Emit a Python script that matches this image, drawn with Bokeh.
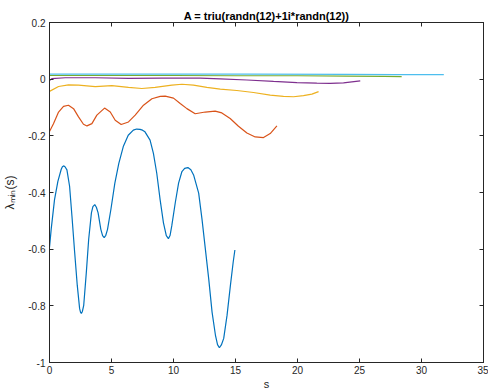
import math
from bokeh.plotting import figure
from bokeh.models import LinearAxis, FixedTicker, CustomJSTickFormatter, Range1d
from bokeh.embed import file_html
from bokeh.resources import INLINE

# ---- data ----
title_text = "A = triu(randn(12)+1i*randn(12))"
x_label = "s"
y_label = "λₘᵢₙ(s)"
x_ticks = [0, 5, 10, 15, 20, 25, 30, 35]
y_ticks = [-1.0, -0.8, -0.6, -0.4, -0.2, 0.0, 0.2]

s1 = [0.0, 0.135, 0.405, 0.676, 0.946, 1.04, 1.135, 1.25, 1.405, 1.62, 1.81, 2.03, 2.24,
      2.43, 2.50, 2.57, 2.65, 2.76, 2.97, 3.16, 3.38, 3.50, 3.65, 3.78, 3.92, 4.14, 4.28,
      4.41, 4.54, 4.68, 4.95, 5.27, 5.59, 5.95, 6.35, 6.76, 7.03, 7.30, 7.50, 7.70, 8.11,
      8.38, 8.65, 8.92, 9.19, 9.42, 9.59, 9.72, 9.86, 10.14, 10.41, 10.68, 10.90, 11.16,
      11.40, 11.62, 12.03, 12.30, 12.57, 12.84, 13.11, 13.38, 13.55, 13.70, 13.86, 14.05,
      14.32, 14.59, 14.81, 14.95]
lam1 = [-0.594, -0.530, -0.425, -0.361, -0.318, -0.309, -0.306, -0.309, -0.320, -0.378,
        -0.483, -0.612, -0.728, -0.810, -0.822, -0.827, -0.820, -0.798, -0.682, -0.565,
        -0.472, -0.450, -0.443, -0.452, -0.472, -0.530, -0.552, -0.559, -0.551, -0.530,
        -0.460, -0.367, -0.297, -0.238, -0.198, -0.180, -0.176, -0.177, -0.180, -0.186,
        -0.215, -0.262, -0.332, -0.425, -0.507, -0.552, -0.563, -0.552, -0.518, -0.437,
        -0.367, -0.326, -0.315, -0.312, -0.320, -0.338, -0.402, -0.495, -0.600, -0.705,
        -0.822, -0.903, -0.937, -0.948, -0.938, -0.915, -0.833, -0.728, -0.647, -0.603]

s2 = [0.0, 0.32, 0.73, 1.13, 1.53, 1.94, 2.34, 2.74, 3.02, 3.42, 3.82, 4.44, 4.90, 5.30,
      5.78, 6.37, 6.91, 7.58, 8.26, 8.93, 9.33, 10.0, 10.54, 11.08, 11.75, 12.56, 13.36,
      13.90, 14.57, 15.24, 15.92, 16.59, 17.26, 17.80, 18.34]
lam2 = [-0.185, -0.157, -0.116, -0.096, -0.092, -0.104, -0.133, -0.159, -0.165, -0.157,
        -0.127, -0.102, -0.116, -0.145, -0.160, -0.151, -0.127, -0.092, -0.069, -0.061,
        -0.060, -0.067, -0.086, -0.104, -0.122, -0.116, -0.113, -0.119, -0.139, -0.166,
        -0.190, -0.204, -0.206, -0.192, -0.165]

s3 = [0.0, 0.73, 1.53, 2.34, 3.69, 5.03, 6.37, 7.45, 8.52, 9.87, 10.68, 11.61, 12.69,
      13.77, 15.11, 16.45, 17.80, 18.87, 19.68, 20.48, 21.16, 21.70]
lam3 = [-0.043, -0.026, -0.020, -0.021, -0.026, -0.023, -0.029, -0.033, -0.029, -0.021,
        -0.018, -0.021, -0.029, -0.035, -0.040, -0.047, -0.056, -0.061, -0.062, -0.058,
        -0.053, -0.044]

s4 = [0.0, 0.19, 1.27, 3.69, 6.37, 9.06, 12.15, 13.77, 15.92, 18.07, 19.95, 21.56, 22.64,
      23.71, 25.06]
lam4 = [-0.005, 0.002, 0.005, 0.005, 0.003, 0.004, 0.004, 0.001, -0.003, -0.008, -0.012,
        -0.014, -0.015, -0.013, -0.006]

s5 = [0.0, 5.0, 10.0, 15.0, 20.0, 24.0, 27.0, 28.4]
lam5 = [0.013, 0.013, 0.013, 0.012, 0.012, 0.011, 0.010, 0.009]

s6 = [0.0, 8.0, 16.0, 24.0, 28.0, 31.8]
lam6 = [0.018, 0.018, 0.018, 0.017, 0.016, 0.016]

series = [(s1, lam1, "#0072BD"), (s2, lam2, "#D95319"), (s3, lam3, "#EDB120"),
          (s4, lam4, "#7E2F8E"), (s5, lam5, "#77AC30"), (s6, lam6, "#4DBEEE")]

FONT = "Liberation Sans"
AX = "#262626"

p = figure(width=488, height=392, x_range=Range1d(0, 35), y_range=Range1d(-1, 0.2),
           output_backend="svg", toolbar_location=None,
           min_border_left=49, min_border_right=5, min_border_top=22, min_border_bottom=28)
p.background_fill_color = "white"
p.border_fill_color = "white"
p.outline_line_color = AX
p.grid.visible = False

p.title.text = title_text
p.title.align = "center"
p.title.text_font = FONT
p.title.text_font_size = "11px"
p.title.text_font_style = "bold"
p.title.text_color = "black"
p.title.standoff = 2
p.title.offset = 0

xt = FixedTicker(ticks=x_ticks)
yt = FixedTicker(ticks=y_ticks)
fmt = CustomJSTickFormatter(code="return String(Math.round(tick*10)/10);")

for ax in (p.xaxis[0], p.yaxis[0]):
    ax.major_tick_in = 4
    ax.major_tick_out = 0
    ax.minor_tick_line_color = None
    ax.axis_line_color = AX
    ax.major_tick_line_color = AX
    ax.major_label_text_font = FONT
    ax.major_label_text_font_size = "10px"
    ax.major_label_text_color = AX
    ax.axis_label_text_font = FONT
    ax.axis_label_text_font_style = "normal"
    ax.axis_label_text_color = AX
p.xaxis[0].ticker = xt
p.xaxis[0].major_label_standoff = 3
p.xaxis[0].axis_label = x_label
p.xaxis[0].axis_label_text_font_size = "11px"
p.xaxis[0].axis_label_standoff = 1
p.yaxis[0].ticker = yt
p.yaxis[0].formatter = fmt
p.yaxis[0].major_label_standoff = 4
p.yaxis[0].axis_label = y_label
p.yaxis[0].axis_label_text_font_size = "12px"
p.yaxis[0].axis_label_standoff = 8

# mirrored inward ticks on the top and right frame edges (labels not drawn)
for side, tk in (("above", xt), ("right", yt)):
    a = LinearAxis(ticker=tk, major_tick_in=4, major_tick_out=0, minor_tick_line_color=None,
                   axis_line_color=AX, major_tick_line_color=AX,
                   major_label_text_font_size="1px", major_label_text_color=None,
                   major_label_standoff=0)
    p.add_layout(a, side)

for xs, ys, col in series:
    p.line(xs, ys, line_color=col, line_width=1.2)

open("out.html", "w").write(file_html(p, INLINE))
